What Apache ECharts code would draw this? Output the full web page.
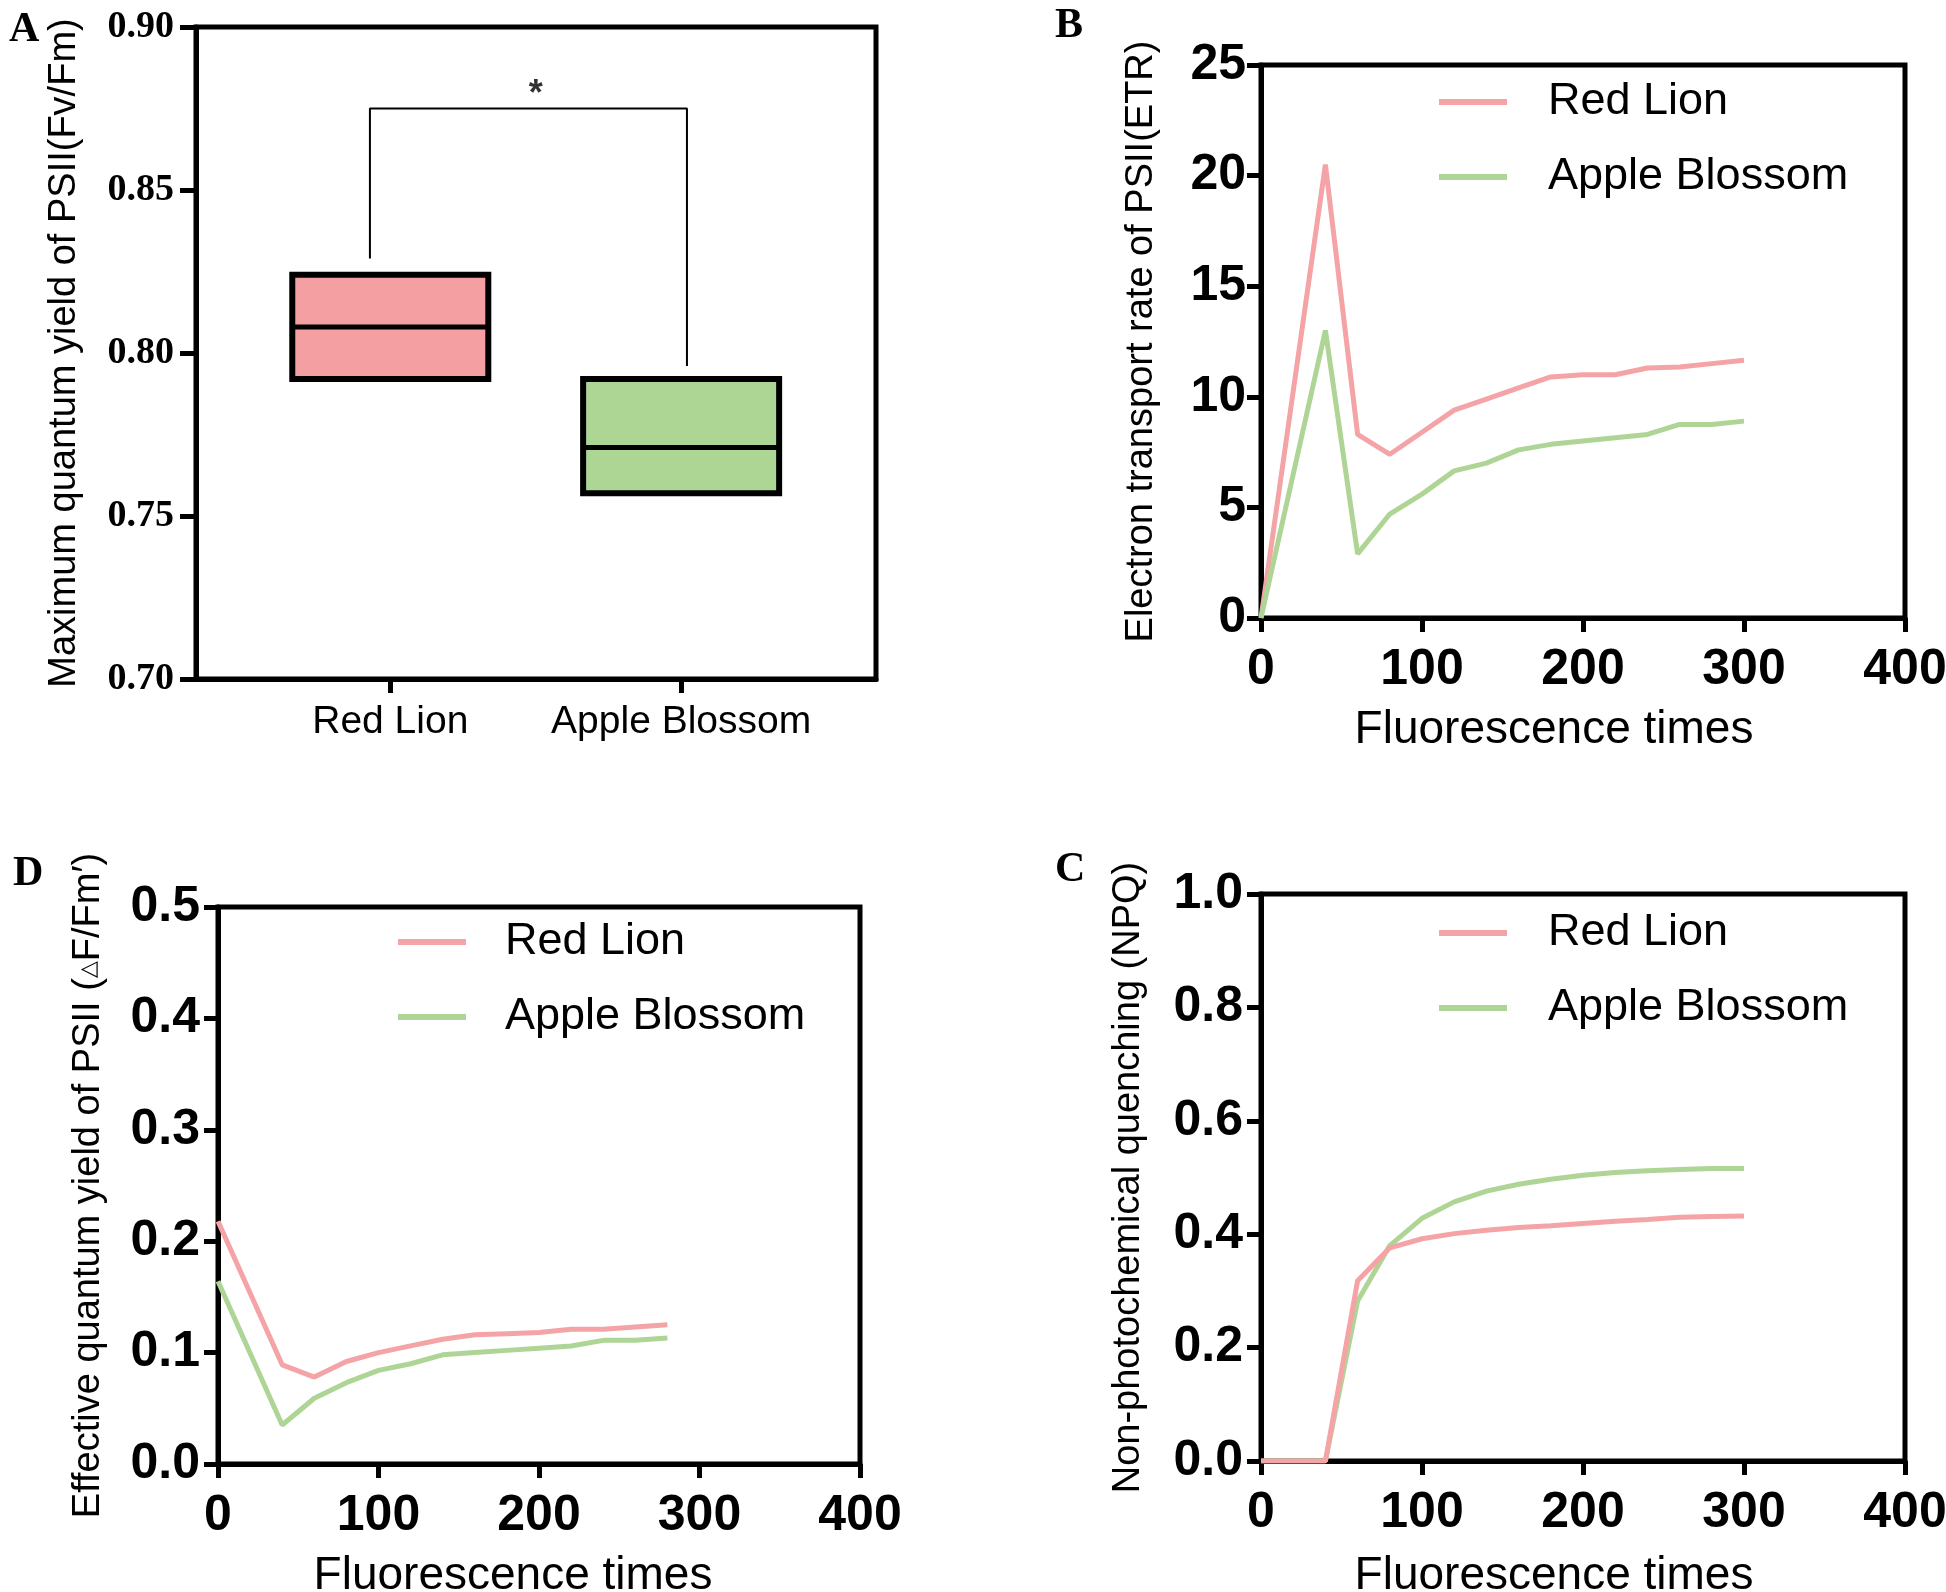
<!DOCTYPE html>
<html><head><meta charset="utf-8">
<script src="https://cdn.jsdelivr.net/npm/echarts@6/dist/echarts.min.js"></script>
<style>html,body{margin:0;padding:0;background:#fff}#c{width:1946px;height:1592px}</style>
</head><body><div id="c"></div>
<script>
// ---- Data ----
const boxCategories = ['Red Lion', 'Apple Blossom'];
const boxLow = [0.792, 0.757];
const boxMedian = [0.808, 0.771];
const boxHigh = [0.824, 0.792];
const bracketPoints = [[0.93, 0.829], [0.93, 0.875], [2.02, 0.875], [2.02, 0.796]];
const starPoint = [1.5, 0.879];

const timesFull = [0, 40, 60, 80, 100, 120, 140, 160, 180, 200, 220, 240, 260, 280, 300];
const etrRed = [0, 20.5, 8.3, 7.4, 8.4, 9.4, 9.9, 10.4, 10.9, 11.0, 11.0, 11.3, 11.35, 11.5, 11.65];
const etrGreen = [0, 13.0, 2.9, 4.7, 5.6, 6.65, 7.0, 7.6, 7.85, 8.0, 8.15, 8.3, 8.75, 8.75, 8.9];

const timesShort = [0, 40, 60, 80, 100, 120, 140, 160, 180, 200, 220, 240, 260, 280];
const yieldRed = [0.218, 0.089, 0.078, 0.092, 0.100, 0.106, 0.112, 0.116, 0.117, 0.118, 0.121, 0.121, 0.123, 0.125];
const yieldGreen = [0.164, 0.035, 0.059, 0.073, 0.084, 0.090, 0.098, 0.100, 0.102, 0.104, 0.106, 0.111, 0.111, 0.113];

const npqRed = [0, 0, 0.318, 0.376, 0.392, 0.401, 0.407, 0.412, 0.415, 0.419, 0.423, 0.426, 0.430, 0.431, 0.432];
const npqGreen = [0, 0, 0.282, 0.380, 0.428, 0.457, 0.476, 0.488, 0.497, 0.504, 0.509, 0.512, 0.514, 0.516, 0.516];

const seriesNames = ['Red Lion', 'Apple Blossom'];
const xTitle = 'Fluorescence times';

// ---- Styles ----
const RED = '#F4A3A6', GREEN = '#AED596';
const RED_FILL = '#F4A0A3', GREEN_FILL = '#ADD593';
const SANS = 'Liberation Sans, Arial, sans-serif';
const SERIF = 'Liberation Serif, Times New Roman, serif';
const LW = 5;

function zip(xs, ys) { return xs.map((x, i) => [x, ys[i]]); }

const chart = echarts.init(document.getElementById('c'), null, {renderer: 'canvas'});

const frame = {show: true, borderColor: '#000', borderWidth: LW, backgroundColor: 'transparent',
  containLabel: false, outerBoundsMode: 'none'};
const grids = [
  Object.assign({left: 196, top: 27, width: 680, height: 652}, frame),   // A
  Object.assign({left: 1261, top: 65, width: 644, height: 553}, frame),  // B
  Object.assign({left: 218, top: 907, width: 642, height: 557}, frame),  // D
  Object.assign({left: 1261, top: 894, width: 644, height: 567}, frame)  // C
];

function lineAxisX(gi, nameGap, shift) {
  return {
    type: 'value', gridIndex: gi, min: 0, max: 400, interval: 100,
    name: xTitle, nameLocation: 'middle', nameGap: nameGap, nameMoveOverlap: false,
    nameTextStyle: {fontFamily: SANS, fontSize: 46, color: '#000', padding: [0, shift, 0, 0]},
    axisLine: {show: true, onZero: false, lineStyle: {color: '#000', width: LW}},
    axisTick: {show: true, length: 14, lineStyle: {color: '#000', width: LW}},
    axisLabel: {fontFamily: SANS, fontWeight: 'bold', fontSize: 50, color: '#000', margin: 27},
    splitLine: {show: false}
  };
}
function lineAxisY(gi, max, interval, name, nameGap, margin, fmt) {
  return {
    type: 'value', gridIndex: gi, min: 0, max: max, interval: interval,
    name: name, nameLocation: 'middle', nameGap: nameGap, nameMoveOverlap: false,
    nameTextStyle: {fontFamily: SANS, fontSize: 38, color: '#000',
      rich: {tri: {fontFamily: SANS, fontSize: 22, color: '#000'}}},
    axisLine: {show: true, lineStyle: {color: '#000', width: LW}},
    axisTick: {show: true, length: 14, lineStyle: {color: '#000', width: LW}},
    axisLabel: {fontFamily: SANS, fontWeight: 'bold', fontSize: 50, color: '#000', margin: margin,
      formatter: fmt},
    splitLine: {show: false}
  };
}

function lineSeries(name, xi, data, color) {
  return {
    type: 'line', name: name, xAxisIndex: xi, yAxisIndex: xi, data: data,
    showSymbol: false, symbol: 'none', lineStyle: {color: color, width: 5}, itemStyle: {color: color},
    z: 3
  };
}

function legendAt(left, top, pad) {
  return {
    data: seriesNames, orient: 'vertical', left: left, top: top,
    icon: 'rect', itemWidth: 68, itemHeight: 6, itemGap: 21,
    textStyle: {fontFamily: SANS, fontSize: 45, color: '#000', padding: [0, 0, 0, pad], lineHeight: 54},
    selectedMode: false
  };
}

const option = {
  backgroundColor: '#fff',
  animation: false,
  title: [
    {text: 'A', left: 4, top: 4, textStyle: {fontFamily: SERIF, fontWeight: 'bold', fontSize: 42, color: '#000'}},
    {text: 'B', left: 1050, top: 0, textStyle: {fontFamily: SERIF, fontWeight: 'bold', fontSize: 42, color: '#000'}},
    {text: 'D', left: 8, top: 848, textStyle: {fontFamily: SERIF, fontWeight: 'bold', fontSize: 42, color: '#000'}},
    {text: 'C', left: 1050, top: 844, textStyle: {fontFamily: SERIF, fontWeight: 'bold', fontSize: 42, color: '#000'}}
  ],
  grid: grids,
  legend: [legendAt(1434, 70, 36), legendAt(393, 910, 34), legendAt(1434, 901, 36)],
  xAxis: [
    {
      type: 'value', gridIndex: 0, min: 0.332, max: 2.67,
      axisLine: {show: true, onZero: false, lineStyle: {color: '#000', width: LW}},
      axisTick: {show: true, length: 14, customValues: [1, 2], lineStyle: {color: '#000', width: LW}},
      axisLabel: {customValues: [1, 2], fontFamily: SANS, fontSize: 39, color: '#000', margin: 24,
        formatter: v => boxCategories[Math.round(v) - 1] || ''},
      splitLine: {show: false}
    },
    lineAxisX(1, 89, 58),
    lineAxisX(2, 89, 52),
    lineAxisX(3, 92, 58)
  ],
  yAxis: [
    {
      type: 'value', gridIndex: 0, min: 0.70, max: 0.90, interval: 0.05,
      name: 'Maximum quantum yield of PSII(Fv/Fm)', nameLocation: 'middle', nameGap: 112, nameMoveOverlap: false,
      nameTextStyle: {fontFamily: SANS, fontSize: 38, color: '#000'},
      axisLine: {show: true, lineStyle: {color: '#000', width: LW}},
      axisTick: {show: true, length: 16, lineStyle: {color: '#000', width: LW}},
      axisLabel: {fontFamily: SERIF, fontWeight: 'bold', fontSize: 38, color: '#000', margin: 22,
        formatter: v => v.toFixed(2)},
      splitLine: {show: false}
    },
    lineAxisY(1, 25, 5, 'Electron transport rate of PSII(ETR)', 100, 15, v => String(v)),
    lineAxisY(2, 0.5, 0.1, 'Effective quantum yield of PSII ({tri|△}F/Fm′)', 110, 18, v => v.toFixed(1)),
    lineAxisY(3, 1.0, 0.2, 'Non-photochemical quenching (NPQ)', 113, 18, v => v.toFixed(1))
  ],
  series: [
    {
      type: 'custom', name: 'box', xAxisIndex: 0, yAxisIndex: 0,
      data: boxCategories.map((c, i) => [i + 1, boxLow[i], boxMedian[i], boxHigh[i]]),
      renderItem: function (params, api) {
        const x = api.value(0), lo = api.value(1), med = api.value(2), hi = api.value(3);
        const hw = 0.337;
        const p1 = api.coord([x - hw, hi]);
        const p2 = api.coord([x + hw, lo]);
        const m1 = api.coord([x - hw, med]);
        const m2 = api.coord([x + hw, med]);
        const fill = params.dataIndex === 0 ? RED_FILL : GREEN_FILL;
        return {
          type: 'group',
          children: [
            {type: 'rect', shape: {x: p1[0], y: p1[1], width: p2[0] - p1[0], height: p2[1] - p1[1]},
              style: {fill: fill, stroke: '#000', lineWidth: 6}},
            {type: 'line', shape: {x1: m1[0], y1: m1[1], x2: m2[0], y2: m2[1]},
              style: {stroke: '#000', lineWidth: 5}}
          ]
        };
      }
    },
    {
      type: 'line', name: 'bracket', xAxisIndex: 0, yAxisIndex: 0, data: bracketPoints,
      symbol: 'none', lineStyle: {color: '#000', width: 2}, silent: true
    },
    {
      type: 'scatter', name: 'star', xAxisIndex: 0, yAxisIndex: 0, data: [starPoint],
      symbolSize: 1, itemStyle: {color: 'transparent'},
      label: {show: true, position: 'inside', formatter: '*', fontFamily: SANS, fontWeight: 'bold', fontSize: 36, color: '#000'}
    },
    lineSeries('Red Lion', 1, zip(timesFull, etrRed), RED),
    lineSeries('Apple Blossom', 1, zip(timesFull, etrGreen), GREEN),
    lineSeries('Red Lion', 2, zip(timesShort, yieldRed), RED),
    lineSeries('Apple Blossom', 2, zip(timesShort, yieldGreen), GREEN),
    lineSeries('Apple Blossom', 3, zip(timesFull, npqGreen), GREEN),
    lineSeries('Red Lion', 3, zip(timesFull, npqRed), RED)
  ]
};
chart.setOption(option);
</script></body></html>
